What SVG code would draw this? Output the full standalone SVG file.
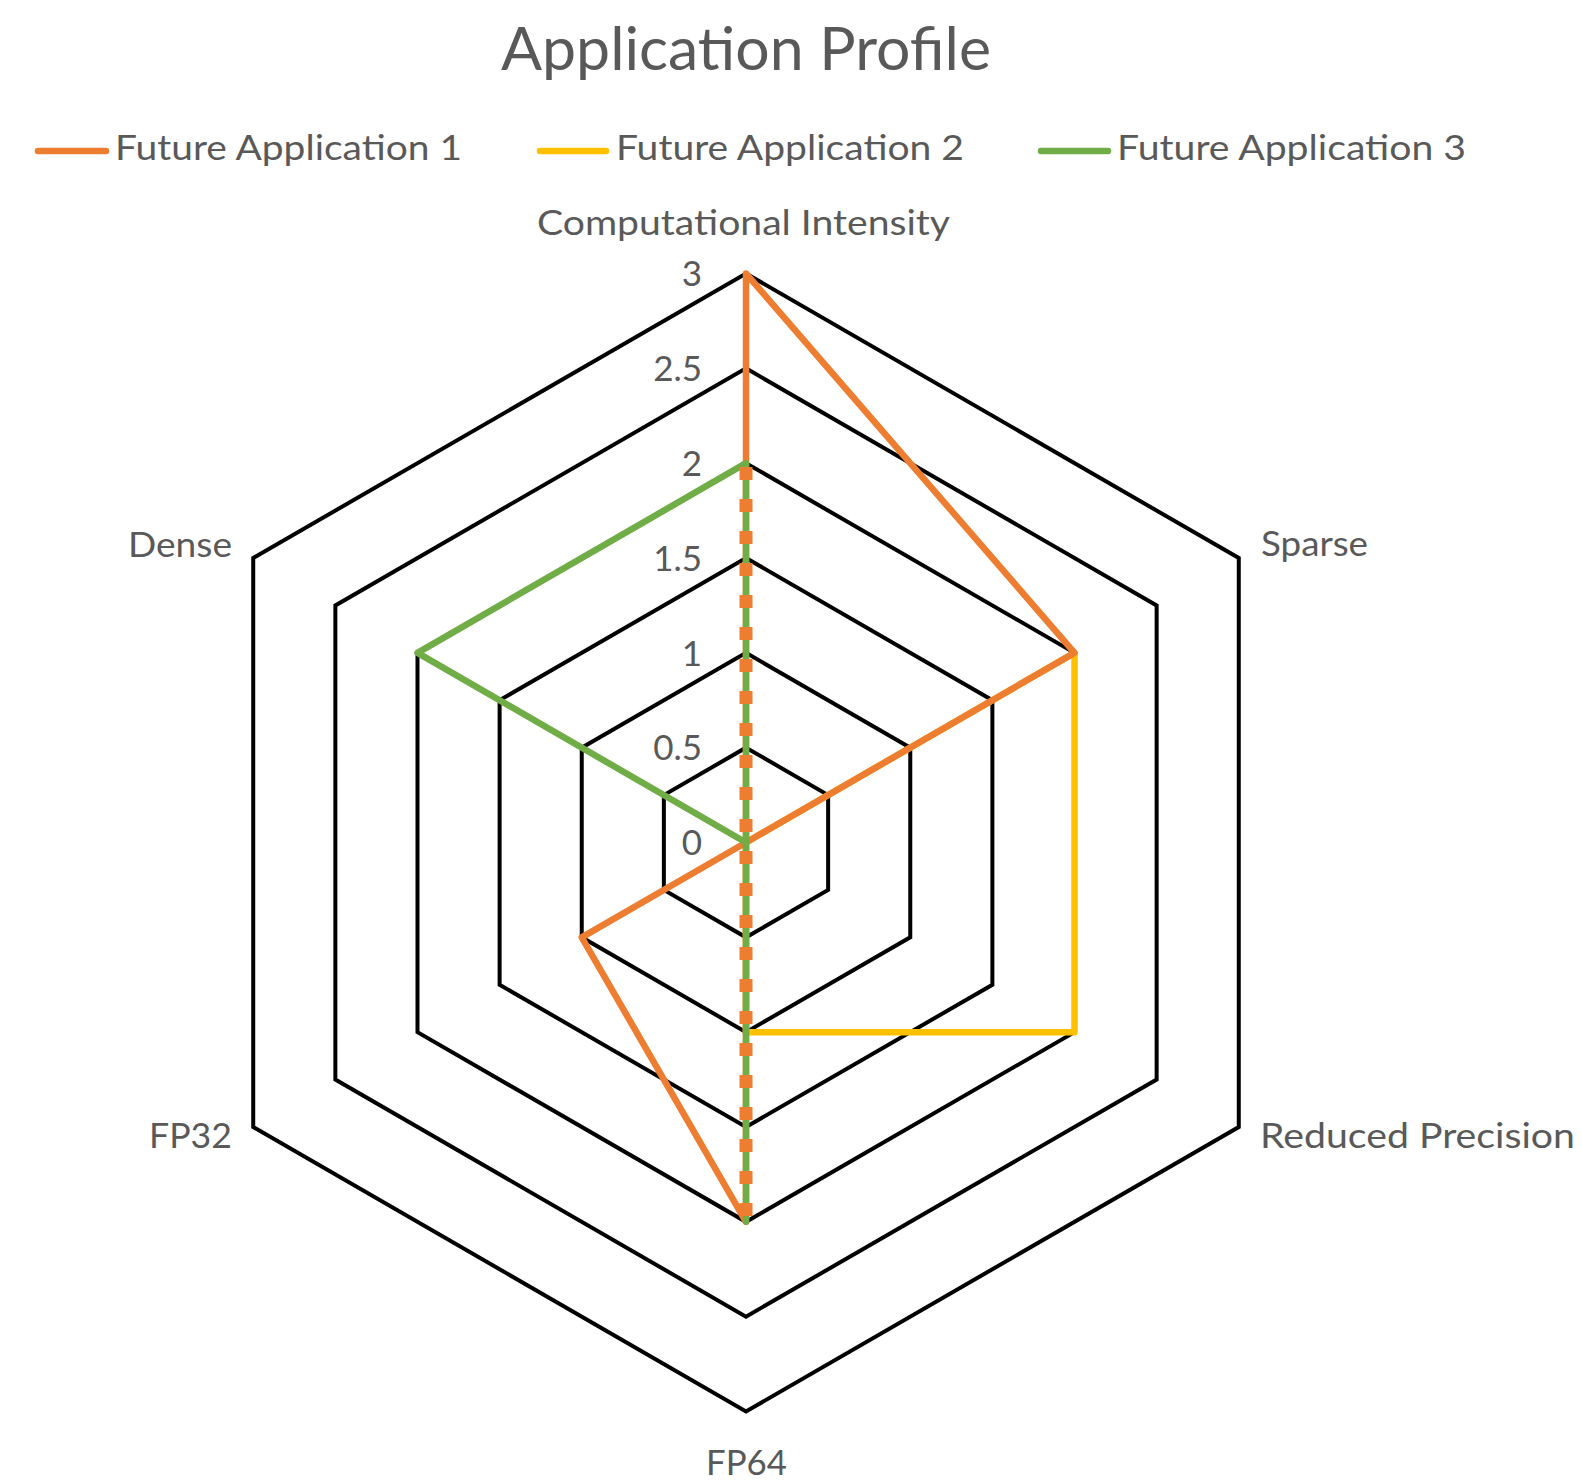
<svg xmlns="http://www.w3.org/2000/svg" width="1582" height="1481" viewBox="0 0 1582 1481">
<style>
.t{font-family:Lato,"Liberation Sans",sans-serif;fill:#595959}
.lab{font-size:35px}
.tick{font-size:35px;text-anchor:end}
.grid{fill:none;stroke:#000;stroke-width:4;stroke-linejoin:miter}
.s{fill:none;stroke-width:6.5;stroke-linejoin:round;stroke-linecap:round}
.o{stroke:#ED7D31}.y{stroke:#FFC000}.g{stroke:#70AD47}
</style>
<rect width="1582" height="1481" fill="#fff"/>
<g id="title"><text class="t" x="501" y="70" font-size="60" textLength="490" lengthAdjust="spacingAndGlyphs">Application Profile</text></g>
<g id="legend">
<line class="s o" x1="38" y1="151" x2="106" y2="151" stroke-width="7"/>
<text class="t lab" x="115" y="160" textLength="347" lengthAdjust="spacingAndGlyphs">Future Application 1</text>
<line class="s y" x1="540" y1="151" x2="606" y2="151" stroke-width="7"/>
<text class="t lab" x="616" y="160" textLength="348" lengthAdjust="spacingAndGlyphs">Future Application 2</text>
<line class="s g" x1="1041" y1="151" x2="1108" y2="151" stroke-width="7"/>
<text class="t lab" x="1117" y="160" textLength="349" lengthAdjust="spacingAndGlyphs">Future Application 3</text>
</g>
<g id="grid">
<polygon class="grid" points="746,747.67 828.13,795.08 828.13,889.92 746,937.33 663.87,889.92 663.87,795.08"/>
<polygon class="grid" points="746,652.83 910.26,747.67 910.26,937.33 746,1032.17 581.74,937.33 581.74,747.67"/>
<polygon class="grid" points="746,558 992.38,700.25 992.38,984.75 746,1127 499.62,984.75 499.62,700.25"/>
<polygon class="grid" points="746,463.17 1074.51,652.83 1074.51,1032.17 746,1221.83 417.49,1032.17 417.49,652.83"/>
<polygon class="grid" points="746,368.33 1156.64,605.42 1156.64,1079.58 746,1316.67 335.36,1079.58 335.36,605.42"/>
<polygon class="grid" points="746,273.5 1238.77,558 1238.77,1127 746,1411.5 253.23,1127 253.23,558"/>
</g>
<g id="ticks">
<text class="t tick" x="702" y="286">3</text>
<text class="t tick" x="702" y="381">2.5</text>
<text class="t tick" x="702" y="476">2</text>
<text class="t tick" x="702" y="570.5">1.5</text>
<text class="t tick" x="702" y="665.5">1</text>
<text class="t tick" x="702" y="760">0.5</text>
<text class="t tick" x="702" y="855">0</text>
</g>
<g id="axis-labels">
<text class="t lab" x="537" y="235" textLength="413" lengthAdjust="spacingAndGlyphs">Computational Intensity</text>
<text class="t lab" x="1261" y="556" textLength="107" lengthAdjust="spacingAndGlyphs">Sparse</text>
<text class="t lab" x="1260" y="1148" textLength="315" lengthAdjust="spacingAndGlyphs">Reduced Precision</text>
<text class="t lab" x="706" y="1475" textLength="81" lengthAdjust="spacingAndGlyphs">FP64</text>
<text class="t lab" x="149" y="1148" textLength="83" lengthAdjust="spacingAndGlyphs">FP32</text>
<text class="t lab" x="128" y="556.5" textLength="104" lengthAdjust="spacingAndGlyphs">Dense</text>
</g>
<g id="series">
<polygon id="app2" class="s y" points="746,842.5 1074.51,652.83 1074.51,1032.17 746,1032.17"/>
<polygon id="app1" class="s o" points="746,273.5 1074.51,652.83 746,842.5 746,1221.83 581.74,937.33 746,842.5"/>
<polygon id="app3" class="s g" points="746,463.17 746,842.5 746,1221.83 746,842.5 417.49,652.83"/>
<line id="app1-overlap" x1="746" y1="467" x2="746" y2="1221.83" stroke="#ED7D31" stroke-width="13" stroke-dasharray="13 19"/>
</g>
</svg>
